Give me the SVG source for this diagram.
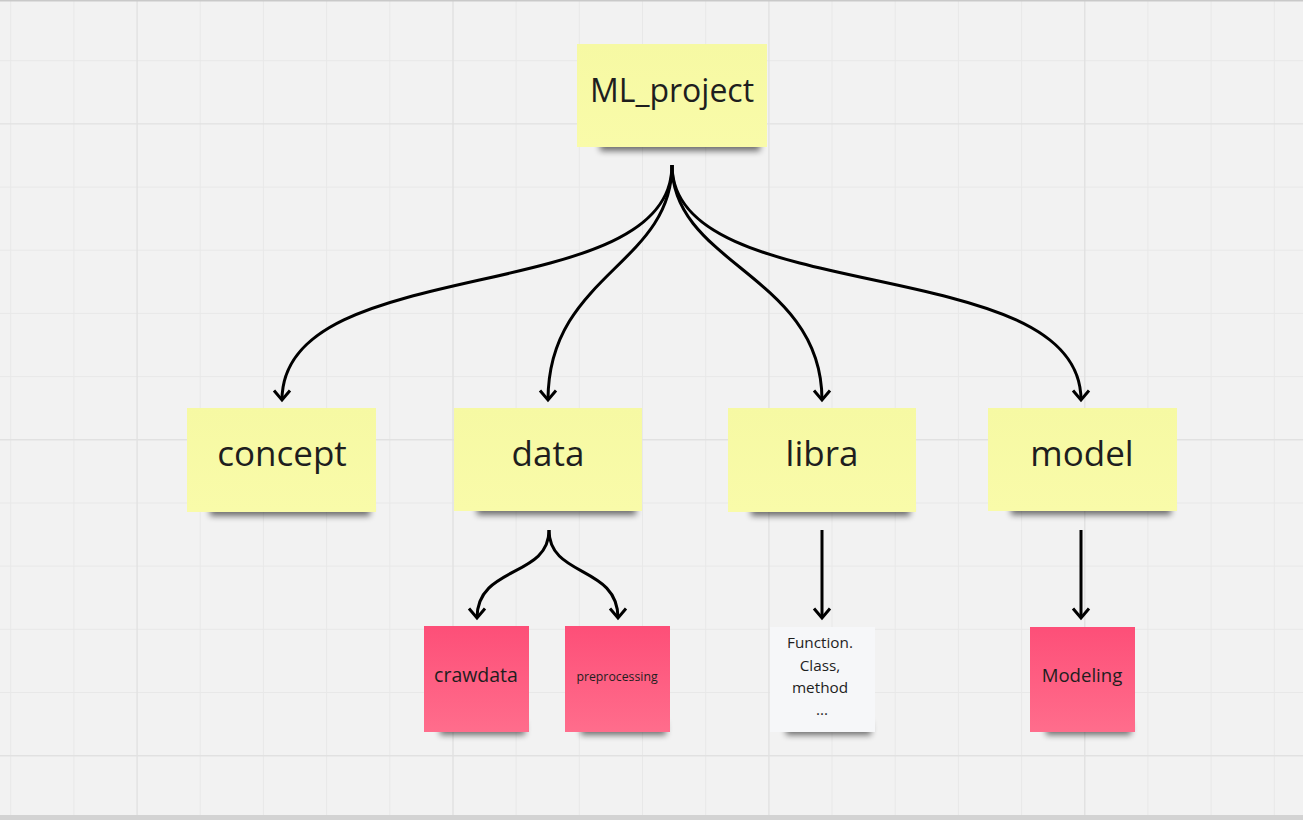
<svg xmlns="http://www.w3.org/2000/svg" width="1303" height="820" viewBox="0 0 1303 820">
<defs>
<style>
.grid{stroke:#e8e8e8;stroke-width:1;fill:none}
.gridM{stroke:#e1e1e1;stroke-width:1.4;fill:none}
.yellow{fill:url(#gy)}
.pink{fill:url(#gp)}
.white{fill:#f6f7f9}
.shadow{fill:#000;opacity:0.55;filter:url(#blur)}
.lbl{font-family:"Open Sans","Noto Sans","Liberation Sans",sans-serif;fill:#1e1e1e;text-anchor:middle}
.conn{fill:none;stroke:#000;stroke-width:3;stroke-linecap:butt}
</style>
<linearGradient id="gy" x1="0" y1="0" x2="0" y2="1">
<stop offset="0" stop-color="#f6f9a3"/>
<stop offset="1" stop-color="#f9fba9"/>
</linearGradient>
<linearGradient id="gp" x1="0" y1="0" x2="0" y2="1">
<stop offset="0" stop-color="#fd4f78"/>
<stop offset="1" stop-color="#ff6d8c"/>
</linearGradient>
<filter id="blur" x="-20%" y="-100%" width="140%" height="300%">
<feGaussianBlur stdDeviation="3.2"/>
</filter>
<marker id="arr" markerWidth="20" markerHeight="20" refX="10" refY="10" orient="auto" markerUnits="userSpaceOnUse" overflow="visible">
<path d="M0.5,2 L10,10 L0.5,18" fill="none" stroke="#000" stroke-width="3"/>
</marker>
</defs>
<rect x="0" y="0" width="1303" height="820" fill="#f2f2f2"/>
<g id="grid">
<path class="grid" d="M10.7,0V820M73.9,0V820M200.2,0V820M263.4,0V820M326.6,0V820M389.8,0V820M516.1,0V820M579.3,0V820M642.5,0V820M705.7,0V820M832,0V820M895.2,0V820M958.4,0V820M1021.6,0V820M1147.9,0V820M1211.1,0V820M1274.3,0V820M0,60.7H1303M0,187.1H1303M0,250.2H1303M0,313.4H1303M0,376.6H1303M0,503H1303M0,566.1H1303M0,629.3H1303M0,692.5H1303"/>
<path class="gridM" d="M137.1,0V820M453,0V820M768.9,0V820M1084.8,0V820M0,123.9H1303M0,439.8H1303M0,755.7H1303"/>
<rect x="0" y="0" width="1303" height="1.5" fill="#c9c9c9"/>
<rect x="0" y="815" width="1303" height="5" fill="#d3d3d3"/>
</g>
<g id="connectors">
<path class="conn" marker-end="url(#arr)" d="M672,165 C672,310 282,250 282,400"/>
<path class="conn" marker-end="url(#arr)" d="M672,165 C672,265 548,275 548,400"/>
<path class="conn" marker-end="url(#arr)" d="M672,165 C672,265 822,275 822,400"/>
<path class="conn" marker-end="url(#arr)" d="M672,165 C672,310 1081,250 1081,400"/>
<path class="conn" marker-end="url(#arr)" d="M549,530 C549,578 477,565 477,618"/>
<path class="conn" marker-end="url(#arr)" d="M549,530 C549,578 618,565 618,618"/>
<path class="conn" marker-end="url(#arr)" d="M822,530 L822,618"/>
<path class="conn" marker-end="url(#arr)" d="M1081,530 L1081,618"/>
</g>
<g id="node-ml_project">
<rect class="shadow" x="600" y="137" width="160" height="14"/>
<rect class="yellow" x="577" y="44" width="190" height="103"/>
<text class="lbl" x="672" y="102" font-size="32">ML_project</text>
</g>
<g id="node-concept">
<rect class="shadow" x="210" y="502" width="160" height="14"/>
<rect class="yellow" x="187" y="408" width="189" height="104"/>
<text class="lbl" x="282" y="466" font-size="35">concept</text>
</g>
<g id="node-data">
<rect class="shadow" x="477" y="501" width="159" height="14"/>
<rect class="yellow" x="454" y="408" width="188" height="103"/>
<text class="lbl" x="548" y="466" font-size="35">data</text>
</g>
<g id="node-libra">
<rect class="shadow" x="751" y="502" width="159" height="14"/>
<rect class="yellow" x="728" y="408" width="188" height="104"/>
<text class="lbl" x="822" y="466" font-size="35">libra</text>
</g>
<g id="node-model">
<rect class="shadow" x="1011" y="501" width="160" height="14"/>
<rect class="yellow" x="988" y="408" width="189" height="103"/>
<text class="lbl" x="1082" y="466" font-size="35">model</text>
</g>
<g id="node-crawdata">
<rect class="shadow" x="440" y="722" width="85" height="13"/>
<rect class="pink" x="424" y="626" width="105" height="106"/>
<text class="lbl" x="476" y="682" font-size="19.5">crawdata</text>
</g>
<g id="node-preprocessing">
<rect class="shadow" x="581" y="722" width="85" height="13"/>
<rect class="pink" x="565" y="626" width="105" height="106"/>
<text class="lbl" x="617" y="681" font-size="12.3">preprocessing</text>
</g>
<g id="node-function">
<rect class="shadow" x="786" y="722" width="85" height="13"/>
<rect class="white" x="770" y="627" width="105" height="105"/>
<text class="lbl" font-size="15.3">
<tspan x="822" y="648">Function.</tspan>
<tspan x="822" y="670.5">Class,</tspan>
<tspan x="822" y="693">method</tspan>
<tspan x="822" y="715">...</tspan>
</text>
</g>
<g id="node-modeling">
<rect class="shadow" x="1046" y="722" width="85" height="13"/>
<rect class="pink" x="1030" y="627" width="105" height="105"/>
<text class="lbl" x="1082" y="682" font-size="18.6">Modeling</text>
</g>
</svg>
